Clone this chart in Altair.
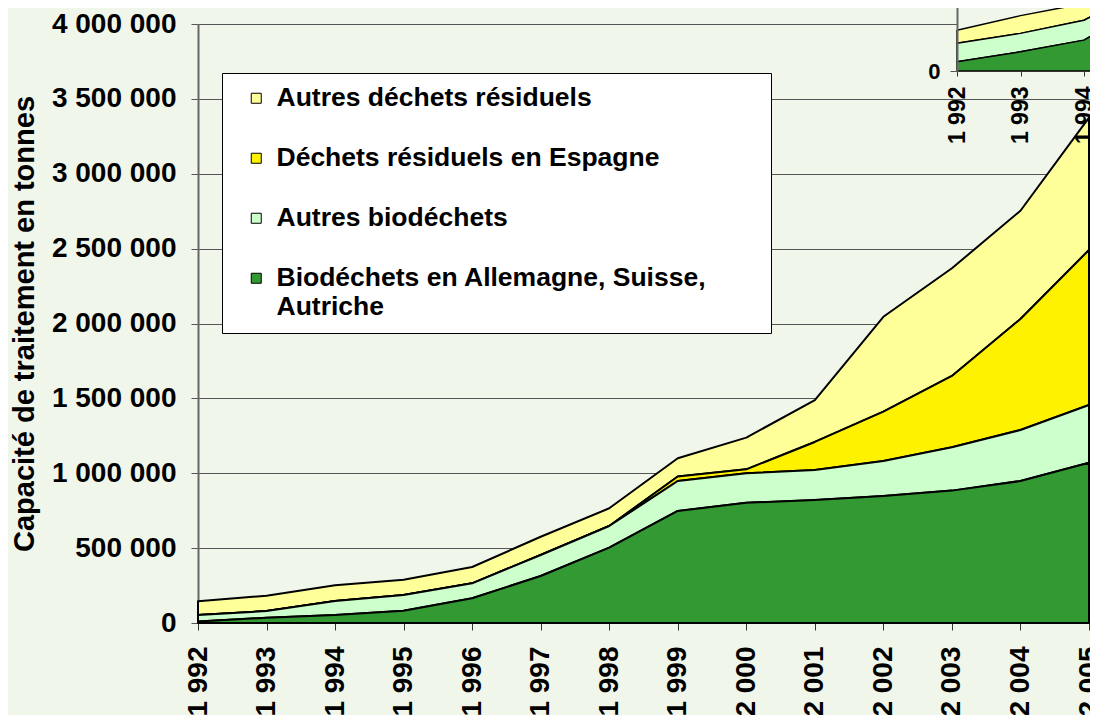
import altair as alt
import pandas as pd

years = list(range(1992, 2006))

series = [
    "Autres déchets résiduels",
    "Déchets résiduels en Espagne",
    "Autres biodéchets",
    "Biodéchets en Allemagne, Suisse, Autriche",
]
colors = ["#FFFF99", "#FFF200", "#CCFFCC", "#339933"]
stack_order = [3, 2, 1, 0]

bio_dca = [10000, 35000, 53000, 82000, 165000, 314000, 503000, 748000, 803000,
           821000, 848000, 884000, 948000, 1070000]
autres_bio = [43000, 45000, 94000, 105000, 100000, 140000, 145000, 200000, 197000,
              201000, 234000, 289000, 341000, 386000]
espagne = [0, 0, 0, 0, 0, 0, 0, 30000, 26000, 187000, 329000, 477000, 741000, 1035000]
autres_res = [92000, 102000, 105000, 102000, 109000, 122000, 118000, 122000, 212000,
              280000, 634000, 719000, 723000, 884000]

# small cropped copy of the chart's corner seen at the top right of the picture
inset_years = [1992, 1993, 1994, 1995]
inset_bio = [26000, 54000, 87000, 190000]
inset_autres_bio = [52000, 52000, 56000, 45000]
inset_autres_res = [37000, 50000, 47000, 25000]
inset_ticks = [1992, 1993, 1994]

y_ticks = [0, 500000, 1000000, 1500000, 2000000, 2500000, 3000000, 3500000, 4000000]

rows = []
for name, o, vals in zip(series, stack_order, [autres_res, espagne, autres_bio, bio_dca]):
    for y, v in zip(years, vals):
        rows.append({"annee": y, "serie": name, "ord": o, "tonnes": v})
df = pd.DataFrame(rows)

inset_rows = []
for name, o, vals in zip([series[0], series[2], series[3]], [3, 1, 0],
                         [inset_autres_res, inset_autres_bio, inset_bio]):
    for y, v in zip(inset_years, vals):
        inset_rows.append({"annee": y, "serie": name, "ord": o, "tonnes": v})
df_inset = pd.DataFrame(inset_rows)

BG = "#F1F6EA"
FONT = "Liberation Sans"
NB = "\u00a0"
ZW = "\u200b"

year_expr = "substring(toString(datum.value),0,1)+' '+substring(toString(datum.value),1)"

label_expr = (
    "datum.label == 'Biodéchets en Allemagne, Suisse, Autriche' ? "
    "['Biodéchets en Allemagne, Suisse," + NB * 7 + ZW + "', 'Autriche'] : datum.label"
)

legend = alt.Legend(
    title=None,
    orient="none",
    legendX=24,
    legendY=49,
    fillColor="white",
    strokeColor="black",
    padding=12,
    symbolType="square",
    symbolSize=100,
    symbolStrokeColor="black",
    symbolStrokeWidth=1,
    symbolOffset=9,
    labelOffset=7,
    labelFontSize=26.5,
    labelFont=FONT,
    labelFontWeight="bold",
    labelColor="black",
    labelLimit=1000,
    rowPadding=33,
    labelExpr=label_expr,
)
color_enc = alt.Color("serie:N", scale=alt.Scale(domain=series, range=colors), legend=legend)
order_enc = alt.Order("ord:Q", sort="ascending")

main = (
    alt.Chart(df)
    .mark_area(stroke="black", strokeWidth=2, strokeJoin="round")
    .encode(
        x=alt.X(
            "annee:Q",
            scale=alt.Scale(domain=[1992, 2005], nice=False, zero=False),
            axis=alt.Axis(
                title=None,
                values=years,
                labelExpr=year_expr,
                labelAngle=-90,
                labelFlush=False,
                labelFontSize=28,
                labelFont=FONT,
                labelFontWeight="bold",
                labelColor="black",
                labelPadding=16,
                labelOverlap=False,
                tickSize=7,
                tickColor="#333333",
                domainColor="#333333",
                grid=False,
            ),
        ),
        y=alt.Y(
            "tonnes:Q",
            stack="zero",
            scale=alt.Scale(domain=[0, 4000000], nice=False),
            axis=alt.Axis(
                title="Capacité de traitement en tonnes",
                values=y_ticks,
                labelExpr="replace(format(datum.value, ','), regexp(',', 'g'), ' ')",
                labelFontSize=28,
                labelFont=FONT,
                labelFontWeight="bold",
                labelColor="black",
                labelPadding=15,
                labelOverlap=False,
                titleFontSize=29,
                titleFont=FONT,
                titleFontWeight="bold",
                titleColor="black",
                titlePadding=12,
                tickSize=7,
                tickColor="#555555",
                domainColor="#666666",
                domainWidth=2,
                gridColor="#555555",
                gridWidth=1,
            ),
        ),
        color=color_enc,
        order=order_enc,
    )
)

inset_x_scale = alt.Scale(domain=[1992, 1994.22], range=[759, 900], nice=False, zero=False)
inset_y_scale = alt.Scale(domain=[0, 200000], range=[47, -24], nice=False)

inset_x_axis = alt.Axis(
    title=None,
    orient="bottom",
    offset=-552,
    values=inset_ticks,
    labelExpr=year_expr,
    labelAngle=-90,
    labelFlush=False,
    labelFontSize=23,
    labelFont=FONT,
    labelFontWeight="bold",
    labelColor="black",
    labelPadding=10,
    tickSize=5,
    tickColor="#333333",
    domainColor="#333333",
    grid=False,
    zindex=2,
)
inset_y_axis = alt.Axis(
    title=None,
    orient="left",
    offset=-759,
    values=[0],
    labelFontSize=22,
    labelFont=FONT,
    labelFontWeight="bold",
    labelColor="black",
    labelPadding=10,
    tickSize=7,
    tickColor="#555555",
    domainColor="#666666",
    domainWidth=2,
    grid=False,
    zindex=2,
)

inset_bg = (
    alt.Chart(pd.DataFrame({"a": [1992], "b": [1994.22], "c": [0], "d": [200000]}))
    .mark_rect(fill=BG, clip=False)
    .encode(
        x=alt.X("a:Q", scale=inset_x_scale, axis=inset_x_axis),
        x2="b:Q",
        y=alt.Y("c:Q", scale=inset_y_scale, axis=inset_y_axis),
        y2="d:Q",
    )
)

inset_area = (
    alt.Chart(df_inset)
    .mark_area(stroke="black", strokeWidth=1.5, strokeJoin="round", clip=False)
    .encode(
        x=alt.X("annee:Q", scale=inset_x_scale, axis=inset_x_axis),
        y=alt.Y("tonnes:Q", stack="zero", scale=inset_y_scale, axis=inset_y_axis),
        color=color_enc,
        order=order_enc,
    )
)

inset = alt.layer(inset_bg, inset_area)

chart = (
    alt.layer(main, inset)
    .resolve_scale(x="independent", y="independent")
    .properties(
        width=891,
        height=599,
        autosize=alt.AutoSizeParams(type="none"),
        padding={"left": 190, "top": 16, "right": 1, "bottom": 100},
        background=BG,
    )
    .configure_view(stroke=None)
)

chart.save("out.html", embed_options={"renderer": "svg", "actions": False})
